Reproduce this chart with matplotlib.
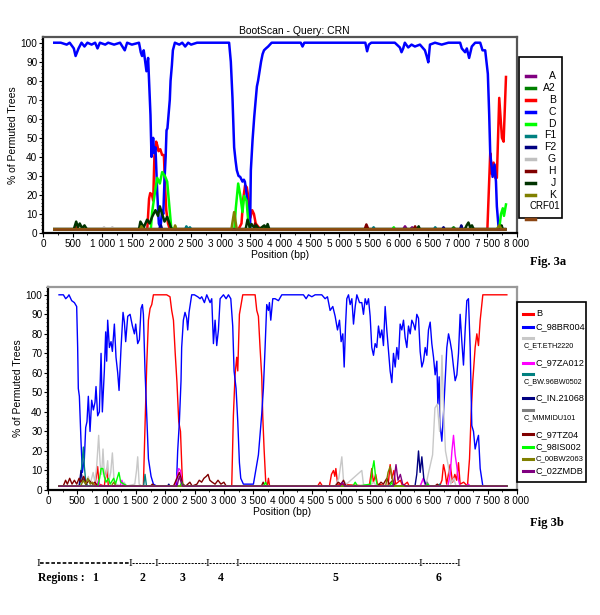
import numpy as np
import matplotlib.pyplot as plt
from matplotlib.lines import Line2D
from matplotlib.patches import Rectangle
from matplotlib.ticker import MultipleLocator, FuncFormatter

plt.rcParams['font.family'] = ['Liberation Sans', 'DejaVu Sans']

# ---------------- Fig 3a data (position bp, % permuted trees) ----------------
top_names = ['A', 'A2', 'B', 'C', 'D', 'F1', 'F2', 'G', 'H', 'J', 'K', 'CRF01']
top_colors = ['#800080', '#008000', '#ff0000', '#0000ff', '#00ff00', '#008080',
              '#000080', '#c0c0c0', '#800000', '#003300', '#808000', '#8b4513']

top_A = [(190, 2), (6080, 2), (6110, 3.5), (6140, 2), (6200, 2), (6230, 3), (6260, 2), (7800, 2)]
top_A2 = [(190, 2), (3700, 2), (3730, 3.5), (3760, 2), (6900, 2), (6930, 3), (6960, 2), (7800, 2)]
top_B = [(190, 2), (540, 2), (560, 3), (580, 2), (1760, 2), (1790, 18), (1810, 21), (1840, 20),
         (1860, 17), (1880, 40), (1910, 48), (1930, 46), (1950, 43), (1980, 44), (2010, 41),
         (2040, 41), (2060, 25), (2080, 12), (2110, 5), (2140, 2), (3300, 2), (3350, 5),
         (3380, 18), (3410, 25), (3440, 24), (3460, 20), (3480, 14), (3500, 8), (3530, 12),
         (3560, 10), (3590, 5), (3640, 3), (3700, 2), (7500, 2), (7548, 42), (7576, 31),
         (7605, 37), (7633, 29), (7660, 29), (7700, 71), (7746, 50), (7774, 48), (7814, 82)]
top_C = [(190, 100), (300, 100), (400, 99), (450, 100), (520, 97), (550, 93), (600, 97),
         (650, 100), (700, 98), (750, 100), (820, 99), (880, 100), (920, 97), (960, 100),
         (1050, 99), (1100, 100), (1200, 99), (1300, 100), (1380, 96), (1420, 100),
         (1500, 99), (1620, 100), (1650, 95), (1672, 93), (1700, 96), (1746, 85), (1774, 92),
         (1790, 80), (1814, 62), (1831, 40), (1845, 45), (1859, 50), (1875, 42), (1898, 45),
         (1927, 22), (1955, 5), (1983, 2.8), (2011, 12), (2030, 10), (2051, 28), (2070, 40),
         (2085, 54), (2100, 55), (2124, 64), (2140, 70), (2153, 80), (2175, 88), (2192, 96),
         (2226, 100), (2300, 99), (2350, 100), (2400, 98), (2450, 100), (2500, 99),
         (2600, 100), (3141, 100), (3170, 90), (3198, 71), (3226, 45), (3250, 38), (3271, 33),
         (3300, 30), (3328, 29.5), (3367, 27), (3390, 28), (3407, 27), (3430, 22), (3452, 15),
         (3480, 9), (3495, 2.5), (3508, 33), (3537, 49), (3565, 61), (3590, 70), (3610, 77),
         (3630, 80), (3650, 84), (3680, 90), (3706, 94), (3730, 96), (3763, 97), (3800, 98),
         (3859, 100), (4350, 100), (4380, 98), (4410, 100), (5440, 100), (5470, 95.5),
         (5500, 99), (5540, 100), (5938, 100), (6023, 97.5), (6051, 95), (6079, 97),
         (6107, 100), (6164, 97.5), (6220, 99), (6277, 98), (6362, 99), (6446, 96),
         (6475, 93), (6503, 89.7), (6531, 99), (6616, 100), (6729, 99), (6842, 100),
         (7040, 100), (7068, 97), (7124, 95), (7153, 97), (7192, 92), (7237, 98), (7294, 100),
         (7379, 100), (7418, 96), (7463, 96), (7508, 83.6), (7531, 62), (7548, 42),
         (7588, 29.5), (7622, 36), (7645, 27), (7660, 14), (7690, 2.6)]
top_D = [(190, 2), (1820, 2), (1842, 11), (1881, 19.5), (1927, 29), (1972, 26), (2011, 32),
         (2057, 30), (2096, 27), (2141, 11), (2164, 3), (2190, 2), (3230, 2), (3254, 13),
         (3294, 26), (3328, 20), (3367, 11), (3395, 19.5), (3435, 17), (3463, 6.5), (3497, 2),
         (5900, 2), (5920, 3), (5940, 2), (7700, 2), (7730, 10), (7760, 13), (7780, 9), (7814, 15)]
top_F1 = [(190, 2), (2400, 2), (2420, 3.5), (2440, 2), (2480, 3), (2500, 2), (5560, 2),
          (5580, 3), (5600, 2), (6600, 2), (6620, 3), (6640, 2), (7800, 2)]
top_F2 = [(190, 2), (1960, 2), (1990, 4), (2010, 2), (6740, 2), (6760, 3), (6780, 2),
          (7040, 2), (7060, 4), (7080, 2), (7800, 2)]
top_G = [(190, 2), (1000, 2), (1030, 3), (1060, 2), (1140, 2), (1170, 3), (1200, 2), (7800, 2)]
top_H = [(190, 2), (3560, 2), (3580, 5), (3600, 2), (5430, 2), (5458, 4.5), (5490, 2),
         (6260, 2), (6280, 3.5), (6300, 2), (7800, 2)]
top_J = [(190, 2), (520, 2), (560, 6), (590, 3), (620, 5), (660, 2.5), (700, 4), (740, 2),
         (1620, 2), (1644, 6), (1700, 3), (1757, 7), (1800, 5), (1842, 8.5), (1898, 12),
         (1940, 9), (1972, 14), (2011, 10), (2051, 6), (2096, 8.5), (2136, 5), (2170, 2),
         (3420, 2), (3452, 7), (3490, 3), (3520, 4.7), (3560, 3), (3600, 4), (3650, 2),
         (3735, 4), (3770, 2.5), (3791, 4.7), (3820, 2), (6320, 2), (6340, 3.5), (6360, 2),
         (7120, 2), (7150, 4), (7180, 5.5), (7210, 3), (7240, 4), (7270, 2), (7720, 2),
         (7740, 4), (7760, 2), (7800, 2)]
top_K = [(190, 2), (1640, 2), (1660, 3.5), (1690, 2), (2210, 2), (2230, 4), (2250, 2),
         (3180, 2), (3210, 8), (3226, 11), (3245, 7), (3270, 2), (7660, 2), (7700, 4),
         (7740, 2), (7800, 2)]
top_CRF01 = [(190, 2), (7800, 2)]
top_series = [top_A, top_A2, top_B, top_C, top_D, top_F1, top_F2, top_G, top_H, top_J,
              top_K, top_CRF01]

# ---------------- Fig 3b data ----------------
bot_names = ['B', 'C_98BR004', 'C_ET.ETH2220', 'C_97ZA012', 'C_BW.96BW0502', 'C_IN.21068',
             'C_MMMIDU101', 'C_97TZ04', 'C_98IS002', 'C_00BW2063', 'C_02ZMDB']
bot_colors = ['#ff0000', '#0000ff', '#c8c8c8', '#ff00ff', '#008080', '#000080',
              '#808080', '#800000', '#00ff00', '#808000', '#800080']
bot_small = [False, False, True, False, True, False, True, False, False, True, False]

bot_B = [(190, 2), (800, 2), (847, 12), (870, 3), (960, 2), (1001, 11), (1030, 2),
         (1627, 2), (1655, 33), (1684, 64), (1713, 87), (1741, 93), (1770, 95), (1798, 100),
         (2024, 100), (2081, 99), (2110, 92), (2140, 87), (2170, 70), (2200, 55), (2230, 35),
         (2260, 30), (2285, 10), (2300, 2), (3134, 2), (3162, 38), (3191, 59), (3219, 68),
         (3237, 61), (3265, 90), (3288, 94), (3322, 100), (3533, 100), (3561, 92), (3589, 89),
         (3617, 73), (3646, 58), (3663, 38), (3686, 21), (3714, 4), (3740, 2), (3760, 6),
         (3780, 2), (4600, 2), (4640, 4), (4680, 2), (4800, 2), (4835, 8), (4870, 10),
         (4892, 7), (4910, 11), (4940, 3), (5480, 2), (5523, 11), (5550, 4), (5590, 8),
         (5620, 3), (5800, 2), (5836, 13), (5865, 6), (5900, 10), (5930, 3), (6010, 5),
         (6050, 2), (6130, 4), (6160, 2), (6680, 2), (6720, 5), (6746, 13), (6775, 9),
         (6800, 3), (6860, 13), (6900, 4), (6940, 8), (6970, 5), (7002, 14), (7030, 3),
         (7090, 4), (7155, 2), (7190, 16), (7218, 39), (7246, 56), (7286, 73), (7315, 80),
         (7343, 74), (7372, 87), (7417, 100), (7827, 100)]
bot_C = [(188, 100), (262, 100), (302, 98), (336, 99), (358, 100), (404, 97), (450, 96),
         (489, 94), (506, 73), (517, 52), (535, 48), (563, 25), (586, 9), (620, 16), (643, 32),
         (665, 35), (688, 48), (717, 30), (745, 46), (774, 41), (802, 45), (819, 53), (847, 38),
         (876, 40), (905, 70), (927, 40), (961, 61), (984, 81), (1001, 66), (1018, 87),
         (1047, 73), (1075, 76), (1098, 71), (1132, 85), (1160, 68), (1189, 60), (1212, 51),
         (1246, 73), (1280, 91), (1303, 86), (1325, 76), (1360, 89), (1400, 90), (1440, 84),
         (1474, 80), (1496, 85), (1530, 75), (1559, 77), (1587, 93), (1610, 95), (1627, 90),
         (1655, 61), (1684, 38), (1713, 16), (1758, 7), (1798, 3), (1854, 2), (2190, 2),
         (2212, 20), (2241, 35), (2269, 56), (2280, 73), (2309, 87), (2337, 91), (2366, 88),
         (2383, 82), (2406, 91), (2451, 100), (2497, 100), (2554, 99), (2594, 98), (2622, 99),
         (2668, 96), (2708, 100), (2765, 96), (2793, 98), (2822, 75), (2850, 87), (2878, 74),
         (2907, 82), (2936, 98), (2993, 100), (3038, 98), (3078, 100), (3118, 98), (3151, 84),
         (3174, 61), (3208, 52), (3237, 35), (3265, 14), (3288, 6), (3333, 3), (3504, 3),
         (3549, 11), (3589, 18), (3617, 28), (3646, 39), (3674, 52), (3703, 73), (3731, 95),
         (3760, 92), (3777, 96), (3800, 87), (3834, 98), (3874, 98), (3931, 97), (3988, 100),
         (4357, 100), (4403, 98), (4443, 100), (4500, 99), (4556, 100), (4613, 100),
         (4670, 100), (4727, 98), (4767, 99), (4812, 92), (4858, 94), (4898, 89), (4938, 82),
         (4972, 87), (5000, 76), (5029, 80), (5052, 63), (5075, 84), (5097, 98), (5126, 100),
         (5154, 95), (5183, 98), (5211, 85), (5240, 94), (5268, 100), (5314, 96), (5353, 96),
         (5381, 90), (5410, 98), (5438, 95), (5467, 98), (5495, 89), (5523, 73), (5552, 69),
         (5580, 75), (5608, 73), (5637, 84), (5665, 78), (5694, 82), (5722, 74), (5751, 94),
         (5779, 82), (5808, 71), (5836, 61), (5865, 55), (5893, 70), (5922, 63), (5950, 73),
         (5978, 67), (6007, 85), (6035, 82), (6064, 87), (6092, 78), (6121, 73), (6149, 84),
         (6178, 80), (6206, 87), (6235, 85), (6263, 82), (6291, 90), (6320, 88), (6348, 71),
         (6377, 63), (6405, 66), (6434, 73), (6462, 69), (6490, 82), (6519, 86), (6547, 75),
         (6576, 68), (6604, 59), (6633, 66), (6650, 44), (6672, 58), (6689, 33), (6718, 25),
         (6746, 39), (6775, 56), (6803, 73), (6832, 80), (6860, 76), (6888, 71), (6917, 63),
         (6945, 56), (6974, 59), (7002, 70), (7030, 90), (7059, 76), (7087, 64), (7116, 82),
         (7144, 97), (7172, 98), (7201, 73), (7229, 33), (7258, 30), (7286, 21), (7315, 25),
         (7343, 28), (7372, 11), (7417, 2)]
bot_ET = [(188, 2), (640, 2), (688, 7), (720, 3), (770, 9), (800, 4), (830, 12), (864, 28),
          (890, 13), (915, 8), (938, 21), (965, 6), (990, 8), (1018, 15), (1040, 5),
          (1070, 9), (1098, 19), (1125, 6), (1160, 3), (1250, 2), (1300, 4), (1340, 2),
          (1480, 3), (1510, 10), (1530, 17), (1555, 3), (1600, 2), (4900, 2), (4960, 6),
          (5012, 17), (5040, 5), (5090, 3), (5353, 10), (5380, 3), (5480, 2), (5560, 4),
          (5600, 2), (6340, 2), (6400, 5), (6450, 3), (6500, 10), (6560, 18), (6600, 42),
          (6640, 44), (6680, 30), (6720, 69), (6750, 40), (6780, 20), (6830, 12), (6870, 3),
          (6920, 6), (6960, 2), (7827, 2)]
bot_ZA = [(188, 2), (830, 2), (860, 5), (890, 2), (1230, 2), (1260, 5), (1290, 2),
          (2170, 2), (2200, 7), (2230, 11), (2260, 10), (2290, 3), (2320, 2), (6350, 2),
          (6400, 6), (6440, 2), (6820, 2), (6860, 8), (6890, 20), (6917, 28), (6945, 18),
          (6974, 12), (7002, 5), (7030, 2), (7140, 2), (7170, 3), (7200, 2), (7827, 2)]
bot_BW = [(188, 2), (540, 2), (575, 12), (603, 22), (620, 12), (645, 4), (680, 2),
          (1630, 2), (1655, 8), (1680, 2), (6650, 2), (6680, 3), (6710, 2), (7827, 2)]
bot_IN = [(188, 2), (530, 2), (563, 10), (590, 4), (620, 6), (650, 2), (2040, 2),
          (2060, 3), (2080, 2), (6260, 2), (6290, 8), (6320, 20), (6348, 9), (6377, 17),
          (6410, 6), (6440, 3), (6480, 2), (7827, 2)]
bot_MM = [(188, 2), (6440, 2), (6470, 4), (6500, 2), (7827, 2)]
bot_TZ = [(188, 2), (260, 2), (300, 5), (330, 3), (370, 6), (410, 3), (450, 5), (490, 3),
          (530, 6), (560, 4), (610, 7), (650, 3), (700, 5), (760, 3), (800, 4), (850, 2),
          (1750, 2), (1780, 3), (1820, 2), (2140, 2), (2200, 6), (2240, 9), (2270, 6),
          (2300, 3), (2350, 2), (2420, 4), (2460, 2), (2540, 3), (2580, 5), (2620, 4),
          (2660, 6), (2700, 7), (2730, 8), (2760, 5), (2800, 4), (2850, 3), (2900, 5),
          (2950, 3), (3000, 4), (3040, 2), (3640, 2), (3670, 4), (3700, 2), (4900, 2),
          (4950, 4), (5000, 3), (5040, 5), (5080, 2), (5620, 2), (5680, 4), (5720, 3),
          (5780, 6), (5820, 3), (5880, 5), (5920, 2), (6600, 2), (6640, 3), (6680, 2),
          (7827, 2)]
bot_IS = [(188, 2), (850, 2), (880, 6), (905, 11), (935, 11), (960, 7), (990, 4),
          (1030, 6), (1060, 3), (1120, 6), (1150, 3), (1210, 9), (1240, 4), (1300, 3),
          (1350, 2), (2250, 2), (2280, 4), (2310, 2), (3680, 2), (3710, 4), (3740, 2),
          (5200, 2), (5240, 4), (5280, 2), (5500, 3), (5530, 10), (5560, 15), (5590, 6),
          (5620, 2), (5830, 2), (5860, 4), (5890, 2), (6450, 2), (6480, 3), (6510, 2),
          (7827, 2)]
bot_BW2063 = [(188, 2), (560, 2), (600, 5), (640, 3), (680, 6), (720, 3), (760, 4),
              (800, 2), (1080, 2), (1120, 4), (1160, 2), (5760, 2), (5800, 9), (5836, 12),
              (5870, 6), (5900, 2), (7827, 2)]
bot_ZM = [(188, 2), (2200, 2), (2240, 7), (2270, 4), (2300, 2), (4980, 2), (5020, 4),
          (5060, 2), (5890, 2), (5936, 13), (5970, 5), (6010, 8), (6050, 3), (6100, 2),
          (7827, 2)]
bot_series = [bot_B, bot_C, bot_ET, bot_ZA, bot_BW, bot_IN, bot_MM, bot_TZ, bot_IS,
              bot_BW2063, bot_ZM]

# region boundaries (figure pixels) and labels for the bottom annotation
region_edges = [38, 130, 156, 207, 237, 420, 458]
region_labels = ['1', '2', '3', '4', '5', '6']
region_centers = [95, 142, 183, 221, 335, 439]

W, H = 600, 615
fig = plt.figure(figsize=(W / 100, H / 100), dpi=100)


def fx(px):
    return px / W


def fy(py):
    return 1 - py / H


def thousands(v, p):
    return f"{int(v):,}".replace(",", " ")


def style_axes(ax, ytop, side_color):
    ax.set_xlim(0, 8000)
    ax.set_ylim(0, ytop)
    ax.xaxis.set_major_locator(MultipleLocator(500))
    ax.xaxis.set_minor_locator(MultipleLocator(250))
    ax.yaxis.set_major_locator(MultipleLocator(10))
    ax.yaxis.set_minor_locator(MultipleLocator(2))
    ax.xaxis.set_major_formatter(FuncFormatter(thousands))
    ax.tick_params(labelsize=7.2, length=3, width=0.8, pad=1)
    ax.tick_params(which='minor', length=1.5, width=0.6)
    for s in ['left', 'bottom']:
        ax.spines[s].set_linewidth(1.6)
        ax.spines[s].set_color('black')
    for s in ['top', 'right']:
        ax.spines[s].set_linewidth(1.6)
        ax.spines[s].set_color(side_color)
    ax.set_xlabel('Position (bp)', fontsize=7.5, labelpad=1)
    ax.set_ylabel('% of Permuted Trees', fontsize=7.5, labelpad=2)


# ---------------- top panel ----------------
ax1 = fig.add_axes([fx(43), fy(233), fx(517) - fx(43), fy(37) - fy(233)])
for pts, c in zip(top_series, top_colors):
    xs, ys = zip(*pts)
    ax1.plot(xs, ys, color=c, lw=1.8, solid_joinstyle='round')
style_axes(ax1, 103, '#555555')
ax1.set_title('BootScan - Query: CRN', fontsize=7.5, x=0.53, pad=2)

# legend 3a
fig.add_artist(Rectangle((fx(519), fy(218)), fx(562) - fx(519), fy(57) - fy(218),
                         transform=fig.transFigure, fill=False, ec='black', lw=1.2))
for i, (n, c) in enumerate(zip(top_names, top_colors)):
    yy = 76 + i * 11.9
    if n == 'CRF01':
        fig.add_artist(Line2D([fx(526), fx(535)], [fy(219)] * 2, color=c, lw=2.5,
                              transform=fig.transFigure))
        fig.text(fx(560), fy(206), n, fontsize=7, ha='right', va='center')
    else:
        fig.add_artist(Line2D([fx(526), fx(535)], [fy(yy)] * 2, color=c, lw=2.5,
                              transform=fig.transFigure))
        fig.text(fx(556), fy(yy), n, fontsize=7.5, ha='right', va='center')

fig.text(fx(530), fy(262), 'Fig. 3a', fontsize=9, fontweight='bold',
         family='Liberation Serif', va='center')

# ---------------- bottom panel ----------------
ax2 = fig.add_axes([fx(48), fy(490), fx(517) - fx(48), fy(287) - fy(490)])
for pts, c in zip(bot_series, bot_colors):
    xs, ys = zip(*pts)
    ax2.plot(xs, ys, color=c, lw=1.0)
style_axes(ax2, 104, '#999999')

# legend 3b
fig.add_artist(Rectangle((fx(517), fy(482)), fx(586) - fx(517), fy(302) - fy(482),
                         transform=fig.transFigure, fill=False, ec='black', lw=1.2))
leg_marker_y = [313.7, 327, 337.7, 363, 373.7, 397.7, 409.7, 434.3, 446.7, 459, 470.7]
for n, c, small, yy in zip(bot_names, bot_colors, bot_small, leg_marker_y):
    fig.add_artist(Line2D([fx(523), fx(533)], [fy(yy)] * 2, color=c, lw=2.2,
                          transform=fig.transFigure))
    if small and n != 'C_00BW2063':
        fig.text(fx(524), fy(yy + 8.3), n, fontsize=5.2, va='center')
    elif small:
        fig.text(fx(536), fy(yy), n, fontsize=5.6, va='center')
    else:
        fig.text(fx(536), fy(yy), n, fontsize=6.6, va='center')

fig.text(fx(530), fy(523), 'Fig 3b', fontsize=9, fontweight='bold',
         family='Liberation Serif', va='center')

# ---------------- regions bar ----------------
for i in range(len(region_edges) - 1):
    fig.add_artist(Line2D([fx(region_edges[i] + 2), fx(region_edges[i + 1] - 1)],
                          [fy(563)] * 2, color='black', lw=1.2 if i == 0 else 0.7,
                          ls=(0, (2.2, 1.2)), transform=fig.transFigure))
for e in region_edges:
    fig.text(fx(e), fy(563), 'I', fontsize=8, family='Liberation Serif',
             ha='center', va='center')
fig.text(fx(38), fy(578), 'Regions :', fontsize=8.5, fontweight='bold',
         family='Liberation Serif', va='center')
for lab, cx in zip(region_labels, region_centers):
    fig.text(fx(cx), fy(578), lab, fontsize=8.5, fontweight='bold',
             family='Liberation Serif', ha='center', va='center')

fig.savefig('out.png', dpi=100)
